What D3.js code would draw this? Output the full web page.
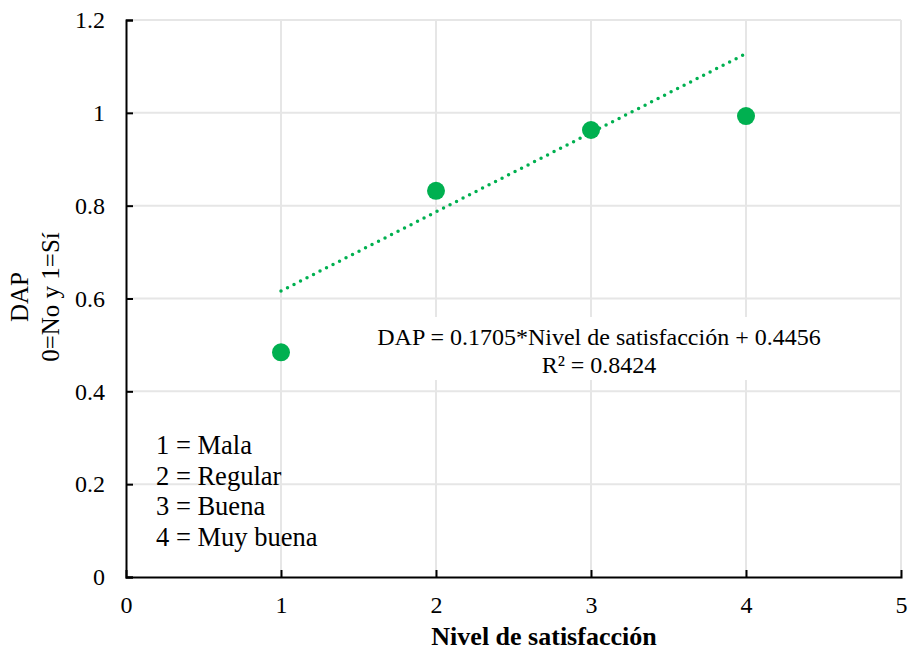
<!DOCTYPE html>
<html><head><meta charset="utf-8">
<script src="https://cdn.jsdelivr.net/npm/d3@7"></script>
<style>body{margin:0;background:#fff}svg{display:block}</style>
</head><body>
<script>
const levels = [1, 2, 3, 4];
const dap = [0.484, 0.832, 0.963, 0.993];
const xTicks = [0, 1, 2, 3, 4, 5];
const yTicks = [0, 0.2, 0.4, 0.6, 0.8, 1, 1.2];
const yTickLabels = ["0", "0.2", "0.4", "0.6", "0.8", "1", "1.2"];
const slope = 0.1705, intercept = 0.4456;
const legendLines = ["1 = Mala", "2 = Regular", "3 = Buena", "4 = Muy buena"];
const eqLines = ["DAP = 0.1705*Nivel de satisfacción + 0.4456", "R² = 0.8424"];

const FONT = "Liberation Serif";
const W = 909, H = 655;
const svg = d3.select("body").append("svg").attr("width", W).attr("height", H);
const x = d3.scaleLinear().domain([0, 5]).range([126, 901]);
const y = d3.scaleLinear().domain([0, 1.2]).range([577, 20]);
const green = "#00b050";

// gridlines
svg.append("g").selectAll("line.v").data(xTicks.slice(1)).join("line")
  .attr("x1", d => x(d)).attr("x2", d => x(d)).attr("y1", y(0)).attr("y2", y(1.2))
  .attr("stroke", "#e6e6e6").attr("stroke-width", 2);
svg.append("g").selectAll("line.h").data(yTicks.slice(1)).join("line")
  .attr("x1", x(0)).attr("x2", x(5)).attr("y1", d => y(d)).attr("y2", d => y(d))
  .attr("stroke", "#e6e6e6").attr("stroke-width", 2);

// axes
const xAxis = svg.append("g").attr("transform", `translate(0,${y(0)})`)
  .call(d3.axisBottom(x).tickValues(xTicks).tickSize(-7).tickPadding(19).tickFormat(d3.format("d")));
const yAxis = svg.append("g").attr("transform", `translate(${x(0)},0)`)
  .call(d3.axisLeft(y).tickValues(yTicks).tickSize(-7).tickPadding(21).tickFormat((d, i) => yTickLabels[i]));
[xAxis, yAxis].forEach(a => {
  a.attr("font-family", FONT).attr("font-size", 24);
  a.select(".domain").attr("stroke", "#000").attr("stroke-width", 2);
  a.selectAll(".tick line").attr("stroke", "#000").attr("stroke-width", 2);
  a.selectAll(".tick text").attr("fill", "#000").style("font-size", "24px").style("font-family", FONT);
});
xAxis.selectAll(".tick").filter(d => d === 0 || d === 5).select("line").remove();

// trendline
svg.append("line")
  .attr("x1", x(1)).attr("y1", y(slope * 1 + intercept))
  .attr("x2", x(4)).attr("y2", y(slope * 4 + intercept))
  .attr("stroke", green).attr("stroke-width", 3.5)
  .attr("stroke-dasharray", "0 7.3").attr("stroke-linecap", "round");

// points
svg.append("g").selectAll("circle").data(levels).join("circle")
  .attr("cx", d => x(d)).attr("cy", (d, i) => y(dap[i])).attr("r", 9).attr("fill", green);

// equation box
svg.append("rect").attr("x", 372).attr("y", 317).attr("width", 456).attr("height", 63).attr("fill", "#fff");
svg.append("g").selectAll("text").data(eqLines).join("text")
  .attr("x", 599).attr("y", (d, i) => 345 + i * 28).attr("text-anchor", "middle")
  .style("font-size", "24px").style("font-family", FONT).text(d => d);

// legend text
svg.append("g").selectAll("text").data(legendLines).join("text")
  .attr("x", 156).attr("y", (d, i) => 454 + i * 30.7)
  .style("font-size", "26.5px").style("font-family", FONT).text(d => d);

// axis titles
svg.append("text").attr("x", 544).attr("y", 645).attr("text-anchor", "middle")
  .style("font-size", "26px").style("font-family", FONT).attr("font-weight", "bold").text("Nivel de satisfacción");
const yt = svg.append("text").attr("transform", "translate(28,297) rotate(-90)")
  .attr("text-anchor", "middle").style("font-size", "25px").style("font-family", FONT);
yt.append("tspan").attr("x", 0).attr("dy", 0).text("DAP");
yt.append("tspan").attr("x", 0).attr("dy", 31).text("0=No y 1=Sí");
</script>
</body></html>
